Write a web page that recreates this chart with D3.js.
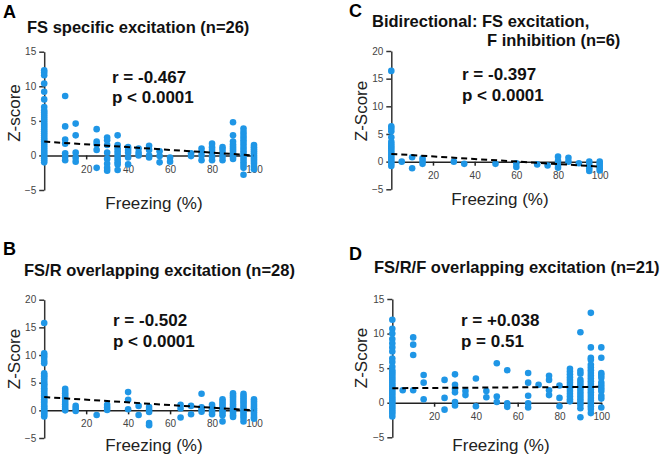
<!DOCTYPE html>
<html>
<head>
<meta charset="utf-8">
<script src="https://cdn.jsdelivr.net/npm/d3@7"></script>
<style>
  html, body { margin: 0; padding: 0; background: #fff; }
  svg { display: block; font-family: "Liberation Sans", Arial, Helvetica, sans-serif; }
</style>
</head>
<body>
<svg id="chart" width="666" height="458"></svg>
<script>
// ---------- DATA ----------
const xTicks = [20, 40, 60, 80, 100];
const yTicks15 = [-5, 0, 5, 10, 15];
const yTicks20 = [-5, 0, 5, 10, 15, 20];

// [freezing %, [z-scores...]]
const pointsA = [
  [0, [12.3, 12.0, 11.6, 10.4, 9.2, 8.1, 7.0, 6.5, 6.2, 5.9, 5.6, 5.3, 5.0, 4.7, 4.4, 4.1, 3.8, 3.5, 3.2, 2.9, 2.6, 2.3, 2.0, 1.7, 1.4, 1.1, 0.8, 0.5, 0.2, -0.1, -0.4, -0.7, -1.0]],
  [10, [8.6, 4.2, 2.3, 1.7, 0.3, -0.2, -0.7]],
  [15, [4.6, 2.9, 0.4, -0.35, -0.9]],
  [25, [3.8, 2.0, 1.6, 0.8, -1.8]],
  [30, [2.6, 2.2, 1.5, 0.4, -0.5, -1.2, -1.8, -2.2]],
  [35, [2.9, 1.5, 1.0, 0.6, 0.2, -0.2, -0.6, -1.0, -1.3, -2.1]],
  [40, [1.2, 0.8, 0.4, -0.3, -1.3]],
  [45, [1.0, 0.4, 0.0]],
  [50, [1.4, 0.8, 0.0, -0.3]],
  [55, [0.6, -0.1, -1.0]],
  [60, [-0.3, -0.9]],
  [70, [0.3, -0.1]],
  [75, [1.0, 0.5, 0.0, -0.7]],
  [80, [1.7, 1.2, 0.8, 0.3, -0.2, -0.7]],
  [85, [1.2, 0.8, 0.3, -0.2, -0.7]],
  [90, [4.8, 2.9, 2.0, 1.6, 1.3, 1.0, 0.7, 0.4, 0.1, -0.2, -0.5]],
  [95, [3.9, 3.4, 3.0, 2.6, 2.2, 1.8, 1.4, 1.0, 0.6, 0.2, -0.2, -0.6, -1.0, -1.4, -1.8, -2.8]],
  [100, [1.5, 1.2, 0.9, 0.6, 0.3, 0.0, -0.3, -0.6, -0.9, -1.2, -1.6, -2.0]]
];
const pointsB = [
  [0, [15.8, 10.3, 9.9, 9.5, 8.9, 8.5, 6.7, 6.4, 6.1, 5.8, 5.4, 5.0, 4.7, 4.4, 4.0, 3.7, 3.4, 3.0, 2.7, 2.4, 2.0, 1.7, 1.4, 1.0, 0.7, 0.4, 0.1, -0.2, -0.5, -0.8, -1.1]],
  [10, [3.9, 3.5, 3.1, 2.7, 2.3, 1.9, 1.5, 1.1, 0.7, 0.3, 0.0]],
  [15, [0.8, 0.35, -0.1]],
  [25, [-0.85]],
  [30, [1.0, 0.5, 0.05]],
  [40, [3.3, 1.9, 0.2]],
  [45, [0.8, -0.85]],
  [50, [0.6, 0.1, -0.3, -2.3, -2.7]],
  [65, [1.0, 0.35, -1.3]],
  [70, [0.8, -0.7]],
  [75, [3.0, 0.55, 0.2, -0.25]],
  [80, [1.0, 0.55, 0.2, -0.25, -0.7]],
  [85, [2.0, 1.6, 1.2, 0.8, 0.4, 0.0, -0.4, -0.9, -2.0]],
  [90, [3.1, 2.7, 2.3, 1.9, 1.5, 1.1, 0.7, 0.3, -0.1, -0.5, -0.9, -1.2]],
  [95, [3.0, 2.6, 2.2, 1.8, 1.4, 1.0, 0.6, 0.2, -0.2, -0.6, -1.0, -1.4, -2.0]],
  [100, [2.0, 1.6, 1.2, 0.8, 0.4, 0.0, -0.4, -0.8, -1.2, -1.5]]
];
const pointsC = [
  [0, [16.4, 6.4, 6.0, 5.5, 4.4, 3.6, 3.2, 2.8, 2.4, 2.0, 1.6, 1.2, 0.8, 0.4, 0.0, -0.4, -0.8]],
  [5, [0.0]],
  [10, [0.8, -1.2]],
  [15, [0.6, 0.1, -0.4]],
  [30, [0.0]],
  [35, [-0.4]],
  [50, [-0.4]],
  [60, [-0.3, -0.95]],
  [70, [-0.5]],
  [75, [-0.7]],
  [80, [0.9, 0.1, -0.6, -1.1]],
  [85, [0.7, 0.0]],
  [90, [-0.3]],
  [95, [0.0, -0.6, -1.2, -1.7]],
  [100, [0.0, -0.4, -0.8, -1.2, -1.6]]
];
const pointsD = [
  [0, [12.0, 10.7, 10.0, 9.2, 8.6, 8.0, 7.4, 6.4, 5.9, 5.2, 4.7, 4.4, 4.1, 3.8, 3.5, 3.2, 2.9, 2.6, 2.3, 2.0, 1.7, 1.4, 1.1, 0.8, 0.5, 0.2, -0.1, -0.4, -0.7, -1.0, -1.3, -1.6, -2.0]],
  [5, [1.8]],
  [10, [9.45, 8.4, 6.9, 1.8]],
  [15, [4.0, 2.9, 0.5]],
  [25, [3.3, 0.7, -1.0]],
  [30, [4.1, 2.6, 2.0, 1.5, 0.1, -0.4]],
  [35, [1.7, 1.1]],
  [40, [3.5, -0.5]],
  [45, [1.7, 0.8]],
  [50, [5.7, 0.9, 0.1]],
  [55, [4.7, -0.1, -0.6]],
  [65, [4.3, 2.9, 1.0, -0.1, -0.7]],
  [70, [2.6]],
  [75, [3.9, 3.3, 1.8, 1.1]],
  [80, [2.5, 0.7, -0.5]],
  [85, [4.9, 4.5, 4.1, 3.7, 3.3, 2.9, 2.5, 2.1, 1.7, 1.3, 0.9, 0.5, 0.2]],
  [90, [10.2, 4.6, 4.2, 3.3, 2.9, 2.5, 2.1, 1.7, 1.3, 0.9, 0.5, 0.1, -0.3, -0.8, -2.1]],
  [95, [13.0, 8.0, 6.5, 6.2, 5.5, 5.1, 4.7, 4.3, 3.9, 3.5, 3.1, 2.7, 2.3, 1.9, 1.5, 1.1, 0.7, 0.3, -0.1, -0.5, -0.9, -1.5]],
  [100, [8.0, 6.5, 4.3, 4.0, 3.6, 2.9, 2.5, 2.1, 1.7, 1.0, 0.6, -0.7]]
];

// regression line: z at freezing 0 and 100
const fitA = [2.0, 0.0];
const fitB = [2.4, 0.0];
const fitC = [1.4, -0.9];
const fitD = [2.1, 2.3];

const titlesA = ["FS specific excitation (n=26)"];
const titlesB = ["FS/R overlapping excitation (n=28)"];
const titlesC = ["Bidirectional: FS excitation,", "F inhibition (n=6)"];
const titlesD = ["FS/R/F overlapping excitation (n=21)"];
const statsA = ["r = -0.467", "p < 0.0001"];
const statsB = ["r = -0.502", "p < 0.0001"];
const statsC = ["r = -0.397", "p < 0.0001"];
const statsD = ["r = +0.038", "p = 0.51"];

// ---------- LAYOUT ----------
const panels = [
  { letter: "A", letterPos: [3, 18], titles: titlesA, titlePos: [[27, 33]], stats: statsA, statsPos: [112, 83, 103],
    points: pointsA, fit: fitA, yTicks: yTicks15, yLabel: "Z-score",
    xr: [44.2, 254], yr: [190, 51.7], yLabelPos: [14, 113], xLabelPos: [154, 209] },
  { letter: "B", letterPos: [3, 255], titles: titlesB, titlePos: [[24, 276]], stats: statsB, statsPos: [113, 326, 346.5],
    points: pointsB, fit: fitB, yTicks: yTicks20, yLabel: "Z-Score",
    xr: [44.2, 254], yr: [438, 299.7], yLabelPos: [14, 359], xLabelPos: [154, 451] },
  { letter: "C", letterPos: [349, 17], titles: titlesC, titlePos: [[372, 27], [487, 46]], stats: statsC, statsPos: [462, 80, 100.5],
    points: pointsC, fit: fitC, yTicks: yTicks20, yLabel: "Z-Score",
    xr: [391.3, 599.7], yr: [189.3, 51], yLabelPos: [361, 111], xLabelPos: [500, 205] },
  { letter: "D", letterPos: [349, 260], titles: titlesD, titlePos: [[374, 273]], stats: statsD, statsPos: [461, 326, 347],
    points: pointsD, fit: fitD, yTicks: yTicks15, yLabel: "Z-Score",
    xr: [392.3, 601.3], yr: [437.3, 299], yLabelPos: [361, 358], xLabelPos: [501, 451] }
];

const dotColor = "#1f96e6";
const svg = d3.select("#chart");

panels.forEach(p => {
  const g = svg.append("g");
  const yMax = d3.max(p.yTicks);
  const x = d3.scaleLinear().domain([0, 100]).range(p.xr);
  const y = d3.scaleLinear().domain([-5, yMax]).range(p.yr);

  // panel letter
  g.append("text").attr("x", p.letterPos[0]).attr("y", p.letterPos[1])
    .attr("font-size", 18).attr("font-weight", "bold").attr("fill", "#000").text(p.letter);

  // titles
  p.titles.forEach((t, i) => {
    g.append("text").attr("x", p.titlePos[i][0]).attr("y", p.titlePos[i][1])
      .attr("font-size", 16.5).attr("font-weight", "bold").attr("fill", "#111").text(t);
  });

  // y axis
  const yAxis = g.append("g").attr("transform", `translate(${p.xr[0]},0)`)
    .call(d3.axisLeft(y).tickValues(p.yTicks).tickSize(5).tickSizeOuter(0).tickPadding(3).tickFormat(d3.format("d")));
  yAxis.selectAll("path, line").attr("stroke", "#333").attr("stroke-width", 1.5);
  yAxis.selectAll("text").attr("font-size", 10).attr("fill", "#444")
    .style("font-family", '"Liberation Sans", Arial, sans-serif');

  // x axis at zero
  const xAxis = g.append("g").attr("transform", `translate(0,${y(0)})`)
    .call(d3.axisBottom(x).tickValues(xTicks).tickSize(4).tickSizeOuter(0).tickPadding(6).tickFormat(d3.format("d")));
  xAxis.selectAll("path, line").attr("stroke", "#222").attr("stroke-width", 1.5);
  xAxis.selectAll("text").attr("font-size", 10).attr("fill", "#444")
    .style("font-family", '"Liberation Sans", Arial, sans-serif');

  // points
  const flat = [];
  p.points.forEach(([fx, zs]) => zs.forEach(z => flat.push({ fx, z })));
  g.append("g").selectAll("circle").data(flat).join("circle")
    .attr("cx", d => x(d.fx)).attr("cy", d => y(d.z)).attr("r", 3.3).attr("fill", dotColor);

  // regression
  g.append("line")
    .attr("x1", x(0)).attr("y1", y(p.fit[0])).attr("x2", x(100)).attr("y2", y(p.fit[1]))
    .attr("stroke", "#000").attr("stroke-width", 2).attr("stroke-dasharray", "6,4");

  // stats
  g.append("text").attr("x", p.statsPos[0]).attr("y", p.statsPos[1])
    .attr("font-size", 17).attr("font-weight", "bold").attr("fill", "#111").text(p.stats[0]);
  g.append("text").attr("x", p.statsPos[0]).attr("y", p.statsPos[2])
    .attr("font-size", 17).attr("font-weight", "bold").attr("fill", "#111").text(p.stats[1]);

  // axis labels
  g.append("text").attr("transform", `translate(${p.yLabelPos[0]},${p.yLabelPos[1]}) rotate(-90)`)
    .attr("text-anchor", "middle").attr("dy", "0.35em").attr("font-size", 17).attr("fill", "#222").text(p.yLabel);
  g.append("text").attr("x", p.xLabelPos[0]).attr("y", p.xLabelPos[1])
    .attr("text-anchor", "middle").attr("font-size", 17).attr("fill", "#222").text("Freezing (%)");
});
</script>
</body>
</html>
